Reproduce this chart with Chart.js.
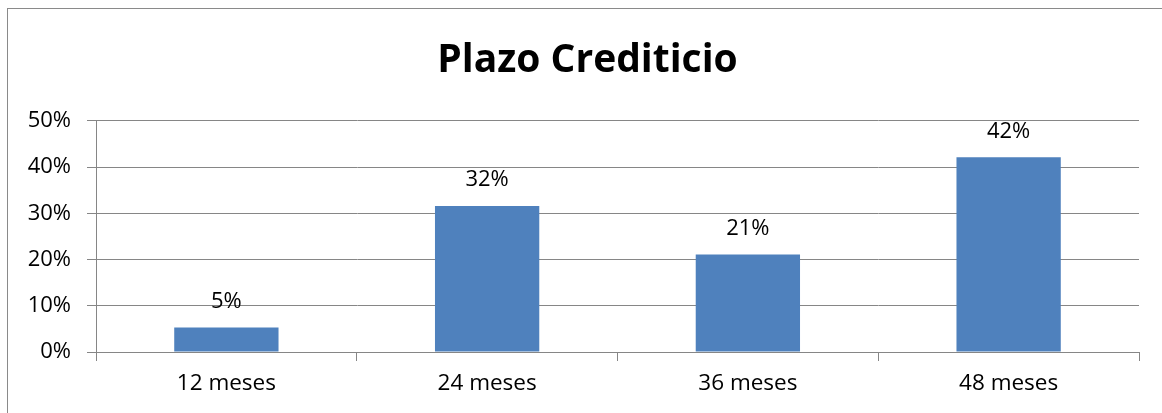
<!DOCTYPE html>
<html>
<head>
<meta charset="utf-8">
<script src="https://cdn.jsdelivr.net/npm/chart.js@4"></script>
<style>
  body { margin: 0; background: #fff; }
  #frame {
    position: absolute; left: 7px; top: 8px; width: 1170px; height: 430px;
    border: 1px solid #8a8a8a; box-sizing: border-box;
  }
  canvas { position: absolute; left: 0; top: 0; }
</style>
</head>
<body>
<div id="frame"></div>
<canvas id="plazoChart" width="1162" height="413"></canvas>
<script>
// Plazo Crediticio - distribucion por plazo
const categories = ['12 meses', '24 meses', '36 meses', '48 meses'];
const shares = [5.3, 31.6, 21.1, 42.1]; // percent
const yTicks = [0, 10, 20, 30, 40, 50];

const FONT = '"Open Sans", Lato, sans-serif';

// draws the rounded % value above each bar
const valueLabels = {
  id: 'valueLabels',
  afterDatasetsDraw(chart) {
    const ctx = chart.ctx;
    const meta = chart.getDatasetMeta(0);
    ctx.save();
    ctx.font = '22px ' + FONT;
    ctx.fillStyle = '#000';
    ctx.textAlign = 'center';
    ctx.textBaseline = 'middle';
    meta.data.forEach((bar, i) => {
      ctx.fillText(Math.round(shares[i]) + '%', bar.x, bar.y - 26);
    });
    ctx.restore();
  }
};

// centre the title on the whole frame rather than on the padded box
const shiftTitle = {
  id: 'shiftTitle',
  afterLayout(chart) {
    if (chart.titleBlock) chart.titleBlock.left = 36;
  }
};

const ctx = document.getElementById('plazoChart').getContext('2d');
const plazoChart = new Chart(ctx, {
  type: 'bar',
  data: {
    labels: categories,
    datasets: [{
      data: shares,
      backgroundColor: '#4f81bd',
      borderWidth: 0,
      barPercentage: 0.4,
      categoryPercentage: 1.0
    }]
  },
  options: {
    responsive: false,
    animation: false,
    layout: {
      padding: { left: 0, right: 23, top: 0, bottom: 0 }
    },
    scales: {
      y: {
        min: 0,
        max: 50,
        afterFit(scale) { scale.width = 96; },
        afterBuildTicks(scale) { scale.ticks = yTicks.map(v => ({ value: v })); },
        ticks: {
          color: '#000',
          font: { family: FONT, size: 22 },
          padding: 16,
          callback: v => v + '%'
        },
        grid: {
          color: '#868686',
          lineWidth: 1,
          tickLength: 9,
          drawTicks: true
        },
        border: { display: true, color: '#868686', width: 1 }
      },
      x: {
        afterFit(scale) { scale.height = 61; },
        ticks: {
          color: '#000',
          font: { family: FONT, size: 22.5 },
          padding: 9
        },
        grid: {
          display: true,
          drawOnChartArea: false,
          color: '#868686',
          tickLength: 9,
          offset: true
        },
        border: { display: true, color: '#868686', width: 1 }
      }
    },
    plugins: {
      legend: { display: false },
      tooltip: { enabled: false },
      title: {
        display: true,
        text: 'Plazo Crediticio',
        color: '#000',
        font: { family: FONT, size: 39, weight: 'bold', lineHeight: 1.2 },
        padding: { top: 37, bottom: 37 }
      }
    }
  },
  plugins: [valueLabels, shiftTitle]
});
</script>
</body>
</html>
